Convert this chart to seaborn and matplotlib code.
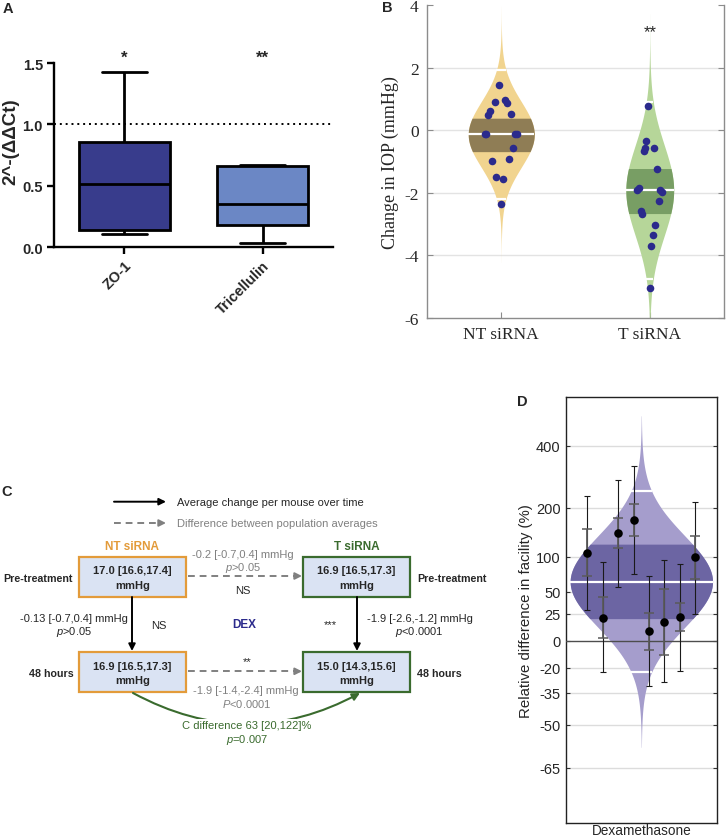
"""
Four-panel figure: qPCR box plot (A), IOP change violins (B),
IOP flow diagram (C) and facility violin (D).
"""

import numpy as np
import pandas as pd
import matplotlib

matplotlib.use("Agg")

import matplotlib.pyplot as plt
from matplotlib.patches import Rectangle, FancyArrowPatch
import seaborn as sns


W, H = 726, 837

# ---- panel A data (min, q1, median, q3, max) ----
genes = ["ZO-1", "Tricellulin"]
zo1_summary = [0.11, 0.14, 0.51, 0.86, 1.43]
tric_summary = [0.03, 0.18, 0.35, 0.66, 0.67]
gene_colors = ["#383c8c", "#6b87c5"]
gene_stars = ["*", "**"]

# ---- panel B data ----
groups_b = ["NT siRNA", "T siRNA"]
nt_iop = [1.44, 0.92, 0.98, 0.88, 0.61, 0.50, 0.52, -0.11, -0.10, -0.12, -0.12,
          -0.56, -0.98, -0.90, -1.50, -1.57, -2.35]
nt_jitter = [-0.016, -0.045, 0.022, 0.038, -0.079, -0.088, 0.067, -0.11, -0.10,
             0.09, 0.108, 0.081, -0.061, 0.054, -0.034, 0.011, -0.003]
t_iop = [0.78, -0.33, -0.55, -0.65, -0.55, -1.24, -1.91, -1.83, -1.90, -1.96,
         -2.27, -2.57, -2.66, -3.01, -3.35, -3.69, -5.04]
t_jitter = [-0.009, -0.022, -0.034, -0.042, 0.031, 0.052, -0.083, -0.074, 0.072,
            0.083, 0.061, -0.061, -0.049, 0.038, 0.02, 0.009, 0.0]
b_mean = [-0.13, -1.92]
b_sd = [1.05, 1.45]
b_ci = [(-0.68, 0.39), (-2.66, -1.22)]
b_light = ["#f1d48f", "#b6d699"]
b_dark = ["#8f7d55", "#789e64"]

# ---- panel D data (percent difference in facility) ----
d_mean = 63
d_ci = (20, 122)
d_sd_log = 0.38
d_offsets = [-0.358, -0.254, -0.154, -0.050, 0.051, 0.151, 0.255, 0.357]
d_values = [106, 21, 143, 170, 8, 17, 22, 99]
d_outer_low = [29, -23, 56, 74, -31, -29, -22, 25]
d_outer_high = [229, 91, 277, 323, 70, 94, 89, 215]
d_inner_low = [70, 2.5, 115, 138, -7, -11, 8, 67]
d_inner_high = [151, 43, 175, 208, 26, 53, 37, 138]
d_ticks = [400, 200, 100, 50, 25, 0, -20, -35, -50, -65]

SANS = ["Liberation Sans", "DejaVu Sans"]
SERIF = ["Liberation Serif", "DejaVu Serif"]
GRAY = "#808080"
ORANGE = "#e39b3a"
GREEN = "#3a6b2e"
NAVY = "#2b2a8c"


def px_rect(left, top, right, bottom):
    return [left / W, 1 - bottom / H, (right - left) / W, (bottom - top) / H]


def draw_violin(ax, center, mean, sd, ci, scale, light, dark, to_y=lambda z: z, span=3.9):
    def half_width(z):
        return scale * np.exp(-0.5 * ((z - mean) / sd) ** 2) / (sd * np.sqrt(2 * np.pi))

    z = np.linspace(mean - span * sd, mean + span * sd, 600)
    ax.fill_betweenx(to_y(z), center - half_width(z), center + half_width(z),
                     color=light, lw=0, zorder=2)
    zb = np.linspace(ci[0], ci[1], 200)
    ax.fill_betweenx(to_y(zb), center - half_width(zb), center + half_width(zb),
                     color=dark, lw=0, zorder=2)
    for zl in [mean - 1.96 * sd, mean, mean + 1.96 * sd]:
        hw = half_width(zl)
        ax.plot([center - hw, center + hw], [to_y(zl), to_y(zl)], color="white",
                lw=1.6, zorder=3, solid_capstyle="butt")


sns.set_style("ticks")
plt.rcParams["font.family"] = SANS
plt.rcParams["mathtext.fontset"] = "custom"
plt.rcParams["mathtext.rm"] = "Liberation Sans"
plt.rcParams["mathtext.it"] = "Liberation Sans:italic"
plt.rcParams["mathtext.bf"] = "Liberation Sans:bold"

fig = plt.figure(figsize=(W / 100, H / 100), dpi=100)

# ================= panel C (drawn on a full-figure canvas) =================
ax_c = fig.add_axes([0, 0, 1, 1], zorder=-1)
ax_c.set_xlim(0, W)
ax_c.set_ylim(H, 0)
ax_c.axis("off")

solid_head = dict(arrowstyle="-|>", color="black", lw=1.4, mutation_scale=10,
                  shrinkA=0, shrinkB=0)
gray_head = dict(arrowstyle="-|>", color=GRAY, lw=1.4, mutation_scale=10,
                 shrinkA=0, shrinkB=0)


def dashed_arrow(x0, x1, y):
    ax_c.plot([x0, x1 - 6], [y, y], color=GRAY, lw=1.4, ls=(0, (3.5, 2.5)))
    ax_c.annotate("", xy=(x1, y), xytext=(x1 - 7, y), arrowprops=gray_head)


ax_c.annotate("", xy=(166, 502.7), xytext=(114, 502.7), arrowprops=solid_head)
ax_c.text(177, 502.7, "Average change per mouse over time", fontsize=8, va="center")
dashed_arrow(114, 166, 524)
ax_c.text(177, 524, "Difference between population averages", fontsize=8,
          va="center", color=GRAY)

ax_c.text(132, 547, "NT siRNA", fontsize=8.5, fontweight="bold", color=ORANGE,
          ha="center", va="center")
ax_c.text(357, 547, "T siRNA", fontsize=8.5, fontweight="bold", color=GREEN,
          ha="center", va="center")

boxes = [
    (79, 558, ORANGE, "17.0 [16.6,17.4]"),
    (303, 558, GREEN, "16.9 [16.5,17.3]"),
    (79, 653, ORANGE, "16.9 [16.5,17.3]"),
    (303, 653, GREEN, "15.0 [14.3,15.6]"),
]
for bx, by, edge, label in boxes:
    ax_c.add_patch(Rectangle((bx, by), 107, 40, facecolor="#dae3f3", edgecolor=edge, lw=1.6))
    ax_c.text(bx + 53.5, by + 13.5, label, fontsize=8, fontweight="bold", ha="center", va="center")
    ax_c.text(bx + 53.5, by + 28, "mmHg", fontsize=8, fontweight="bold", ha="center", va="center")

ax_c.text(73, 579, "Pre-treatment", fontsize=7.7, fontweight="bold", ha="right", va="center")
ax_c.text(417, 579, "Pre-treatment", fontsize=7.7, fontweight="bold", ha="left", va="center")
ax_c.text(74, 674, "48 hours", fontsize=7.7, fontweight="bold", ha="right", va="center")
ax_c.text(417, 674, "48 hours", fontsize=7.7, fontweight="bold", ha="left", va="center")

dashed_arrow(188, 302, 577)
ax_c.text(243, 555, "-0.2 [-0.7,0.4] mmHg", fontsize=8, color=GRAY, ha="center", va="center")
ax_c.text(243, 568, "$p$>0.05", fontsize=8, color=GRAY, ha="center", va="center")
ax_c.text(243, 591, "NS", fontsize=8, ha="center", va="center")

ax_c.annotate("", xy=(132, 652), xytext=(132, 598), arrowprops=solid_head)
ax_c.annotate("", xy=(357, 652), xytext=(357, 598), arrowprops=solid_head)
ax_c.text(74, 619, "-0.13 [-0.7,0.4] mmHg", fontsize=8, ha="center", va="center")
ax_c.text(74, 632, "$p$>0.05", fontsize=8, ha="center", va="center")
ax_c.text(159, 626, "NS", fontsize=8, ha="center", va="center")
ax_c.text(244, 625, "DEX", fontsize=8.5, fontweight="bold", color=NAVY, ha="center", va="center")
ax_c.text(330, 625, "***", fontsize=8, ha="center", va="center")
ax_c.text(420, 619, "-1.9 [-2.6,-1.2] mmHg", fontsize=8, ha="center", va="center")
ax_c.text(419, 632, "$p$<0.0001", fontsize=8, ha="center", va="center")

dashed_arrow(188, 302, 672.3)
ax_c.text(247, 662, "**", fontsize=8, ha="center", va="center")
ax_c.text(246, 690.7, "-1.9 [-1.4,-2.4] mmHg", fontsize=8, color=GRAY, ha="center", va="center")
ax_c.text(247, 704, "$P$<0.0001", fontsize=8, color=GRAY, ha="center", va="center")

curve = FancyArrowPatch((133, 694), (360, 694), connectionstyle="arc3,rad=0.27",
                        arrowstyle="-|>", mutation_scale=11, color=GREEN, lw=1.5,
                        shrinkA=0, shrinkB=0)
ax_c.add_patch(curve)
ax_c.text(247, 725.7, "C difference 63 [20,122]%", fontsize=8, color=GREEN,
          ha="center", va="center", bbox=dict(facecolor="white", edgecolor="none", pad=0.5))
ax_c.text(247, 740, "$p$=0.007", fontsize=8, color=GREEN, ha="center", va="center")

# panel letters
for letter, lx, ly in [("A", 8, 9), ("B", 387, 8), ("C", 7, 492), ("D", 522, 402)]:
    ax_c.text(lx, ly, letter, fontsize=10.5, fontweight="bold", ha="center", va="center")

# ================= panel A =================
ax_a = fig.add_axes(px_rect(54, 64, 333, 248))
df_a = pd.DataFrame({"gene": np.repeat(genes, 5), "value": zo1_summary + tric_summary})
sns.boxplot(data=df_a, x="gene", y="value", hue="gene", palette=gene_colors, saturation=1,
            width=0.66, whis=(0, 100), linewidth=2, linecolor="black", legend=False, ax=ax_a)
ax_a.axhline(1.0, color="black", ls=(0, (1, 2)), lw=1.4, zorder=1)
ax_a.set_xlim(-0.51, 1.51)
ax_a.set_ylim(0, 1.5)
ax_a.set_yticks([0.0, 0.5, 1.0, 1.5])
ax_a.set_yticklabels(["0.0", "0.5", "1.0", "1.5"], fontweight="bold", fontsize=10.5)
ax_a.set_xticks([0, 1])
ax_a.set_xticklabels(genes, fontweight="bold", fontsize=10.5, rotation=45, ha="right",
                     rotation_mode="anchor")
ax_a.set_xlabel("")
ax_a.set_ylabel("2^-(ΔΔCt)", fontweight="bold", fontsize=13.5)
ax_a.yaxis.set_label_coords(-0.125, 0.58)
for side in ["top", "right"]:
    ax_a.spines[side].set_visible(False)
for side in ["left", "bottom"]:
    ax_a.spines[side].set_linewidth(1.7)
    ax_a.spines[side].set_color("black")
ax_a.tick_params(length=5, width=1.7, color="black", pad=3)
for i, star in enumerate(gene_stars):
    ax_a.text(i, 1.545, star, fontsize=12, fontweight="bold", ha="center", va="center",
              clip_on=False)

# ================= panel B =================
ax_b = fig.add_axes(px_rect(427, 6.3, 724, 319))
ax_b.set_xlim(-0.5, 1.5)
ax_b.set_ylim(-6, 4)
for gy in [2, 0, -2, -4]:
    ax_b.axhline(gy, color="#e3e3e3", lw=1, zorder=0)
for i in range(2):
    draw_violin(ax_b, i, b_mean[i], b_sd[i], b_ci[i], 0.585, b_light[i], b_dark[i])
sns.scatterplot(x=np.array(nt_jitter), y=nt_iop, color=NAVY, s=30, linewidth=0,
                zorder=4, ax=ax_b)
sns.scatterplot(x=np.array(t_jitter) + 1, y=t_iop, color=NAVY, s=30, linewidth=0,
                zorder=4, ax=ax_b)
ax_b.text(1, 3.15, "**", fontsize=12, ha="center", va="center")
ax_b.set_xticks([0, 1])
ax_b.set_xticklabels(groups_b, family=SERIF, fontsize=12.5)
ax_b.set_yticks([4, 2, 0, -2, -4, -6])
ax_b.set_yticklabels(["4", "2", "0", "-2", "-4", "-6"], family=SERIF, fontsize=12.5)
ax_b.set_ylabel("Change in IOP (mmHg)", family=SERIF, fontsize=13, labelpad=4)
for side in ax_b.spines.values():
    side.set_color("#8c8c8c")
    side.set_linewidth(1)
ax_b.spines["top"].set_visible(False)
ax_b.tick_params(direction="in", length=4, color="#8c8c8c", right=True, pad=6)

# ================= panel D =================
ax_d = fig.add_axes(px_rect(566, 397.7, 716.7, 824))


def pct_to_log(p):
    return np.log1p(np.asarray(p, dtype=float) / 100)


def log_to_pct(z):
    return np.expm1(np.asarray(z, dtype=float)) * 100


ax_d.set_yscale("function", functions=(pct_to_log, log_to_pct))
ax_d.set_xlim(-0.5, 0.5)
ax_d.set_ylim(-77.8, 650)
for gy in d_ticks:
    if gy != 0:
        ax_d.axhline(gy, color="#dcdcdc", lw=1, zorder=0)
draw_violin(ax_d, 0, np.log1p(d_mean / 100), d_sd_log,
            (np.log1p(d_ci[0] / 100), np.log1p(d_ci[1] / 100)), 0.45,
            "#a59dcc", "#6c65a3", to_y=log_to_pct, span=3.6)
ax_d.axhline(0, color="#4d4d4d", lw=1, zorder=3)

lo_o = np.array(d_values) - np.array(d_outer_low)
hi_o = np.array(d_outer_high) - np.array(d_values)
ax_d.errorbar(d_offsets, d_values, yerr=[lo_o, hi_o], fmt="none", ecolor="#1a1a1a",
              elinewidth=0.8, capsize=2, capthick=0.8, zorder=4)
lo_i = np.array(d_values) - np.array(d_inner_low)
hi_i = np.array(d_inner_high) - np.array(d_values)
ax_d.errorbar(d_offsets, d_values, yerr=[lo_i, hi_i], fmt="none", ecolor="#5a5a5a",
              elinewidth=1.3, capsize=3.5, capthick=1.1, zorder=4)
sns.scatterplot(x=d_offsets, y=d_values, color="black", s=38, linewidth=0, zorder=5, ax=ax_d)

ax_d.set_yticks(d_ticks)
ax_d.set_yticklabels([str(t) for t in d_ticks], fontsize=10.5)
ax_d.yaxis.set_minor_locator(matplotlib.ticker.NullLocator())
ax_d.set_xticks([0])
ax_d.set_xticklabels(["Dexamethasone"], fontsize=9.8)
ax_d.tick_params(axis="x", length=0, pad=0)
ax_d.tick_params(axis="y", direction="in", length=3, color="#333333", right=True, pad=4)
ax_d.set_ylabel("Relative difference in facility (%)", fontsize=10.8, labelpad=2)
for side in ax_d.spines.values():
    side.set_color("#222222")
    side.set_linewidth(1)

fig.savefig("out.png", dpi=100)
